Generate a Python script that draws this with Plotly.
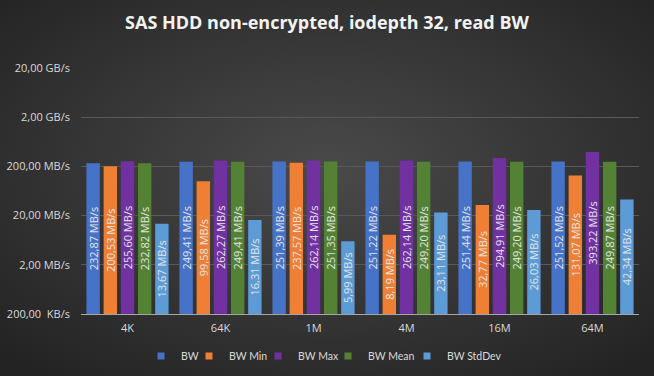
import plotly.graph_objects as go

categories = ["4K", "64K", "1M", "4M", "16M", "64M"]
bw = [232.87, 249.41, 251.39, 251.22, 251.44, 251.52]
bw_min = [200.53, 99.58, 237.57, 8.19, 32.77, 131.07]
bw_max = [255.60, 262.27, 262.14, 262.14, 294.91, 393.22]
bw_mean = [232.82, 249.41, 251.35, 249.20, 249.20, 249.87]
bw_std = [13.67, 16.31, 5.99, 23.11, 26.03, 42.34]

tick_vals = [0.2, 2, 20, 200, 2000, 20000]
tick_text = ["200,00  KB/s", "2,00 MB/s", "20,00 MB/s", "200,00 MB/s", "2,00 GB/s", "20,00 GB/s"]

series_names = ["BW", "BW Min", "BW Max", "BW Mean", "BW StdDev"]
series_values = [bw, bw_min, bw_max, bw_mean, bw_std]
series_colors = ["#4673c8", "#ee7f35", "#7131a1", "#548235", "#5c9bd6"]

W, H = 654, 376
L, R, T, B = 81, 15, 68, 62
PW, PH = W - L - R, H - T - B

# legend square centres (px)
legend_px = [161, 209, 278, 348, 427]

def fmt(v):
    return f"{v:.2f}".replace(".", ",") + " MB/s"

fig = go.Figure()
for i, (name, vals, col) in enumerate(zip(series_names, series_values, series_colors)):
    fig.add_trace(go.Bar(
        name=name, x=categories, y=vals,
        marker=dict(color=col, line=dict(width=0)),
        text=[fmt(v) for v in vals],
        textposition="inside", insidetextanchor="middle", textangle=-90,
        textfont=dict(color="#e4e4e4", size=11, family="Open Sans"),
        hoverinfo="skip", showlegend=False, cliponaxis=False, constraintext="none",
    ))
    lg = "legend" if i == 0 else f"legend{i+1}"
    fig.add_trace(go.Scatter(
        name=name, x=[None], y=[None], mode="markers",
        marker=dict(symbol="square", size=7, color=col),
        legend=lg, hoverinfo="skip",
    ))

bg_svg = (
    "data:image/svg+xml;utf8,<svg xmlns='http://www.w3.org/2000/svg' width='654' height='376'>"
    "<defs><radialGradient id='g' cx='50%' cy='45%' r='70%'>"
    "<stop offset='0%' stop-color='%234a4a4a'/><stop offset='100%' stop-color='%23232323'/>"
    "</radialGradient></defs><rect width='654' height='376' fill='url(%23g)'/></svg>"
)

legends = {}
for i, px in enumerate(legend_px):
    key = "legend" if i == 0 else f"legend{i+1}"
    legends[key] = dict(orientation="h", x=(px - 20 - L) / PW, xanchor="left",
                        y=(H - B - 356) / PH, yanchor="middle",
                        font=dict(size=10.5, color="#d9d9d9", family="Lato"),
                        itemwidth=30, bgcolor="rgba(0,0,0,0)", borderwidth=0)

fig.update_layout(
    width=W, height=H,
    margin=dict(l=L, r=R, t=T, b=B, pad=0, autoexpand=False),
    paper_bgcolor="#383838", plot_bgcolor="rgba(0,0,0,0)",
    images=[dict(source=bg_svg, xref="paper", yref="paper", x=-L / PW, y=1 + T / PH,
                 sizex=W / PW, sizey=H / PH, sizing="stretch", layer="below",
                 xanchor="left", yanchor="top")],
    title=dict(text="<b>SAS HDD non-encrypted, iodepth 32, read BW</b>", x=0.5, xanchor="center",
               xref="container", y=1 - 23 / H, yanchor="middle",
               font=dict(family="Open Sans", size=18, color="#f2f2f2")),
    barmode="group", bargap=0.076, bargroupgap=0.22,
    font=dict(family="Open Sans", color="#d9d9d9", size=11),
    showlegend=True,
    xaxis=dict(showgrid=False, showline=True, linecolor="#a6a6a6", linewidth=1,
               tickfont=dict(size=11, color="#d9d9d9"), ticks="", automargin=False,
               ticklabelstandoff=4),
    yaxis=dict(type="log", range=[-0.69897, 4.30103], tickvals=tick_vals, ticktext=tick_text,
               showgrid=True, gridcolor="#595959", gridwidth=1, zeroline=False, showline=False,
               ticks="", automargin=False, ticklabelstandoff=10,
               tickfont=dict(size=11, color="#d9d9d9")),
    **legends,
)
fig.write_html("out.html", config={"displayModeBar": False},
               post_script="document.body.style.margin='0';document.body.style.padding='0';")
